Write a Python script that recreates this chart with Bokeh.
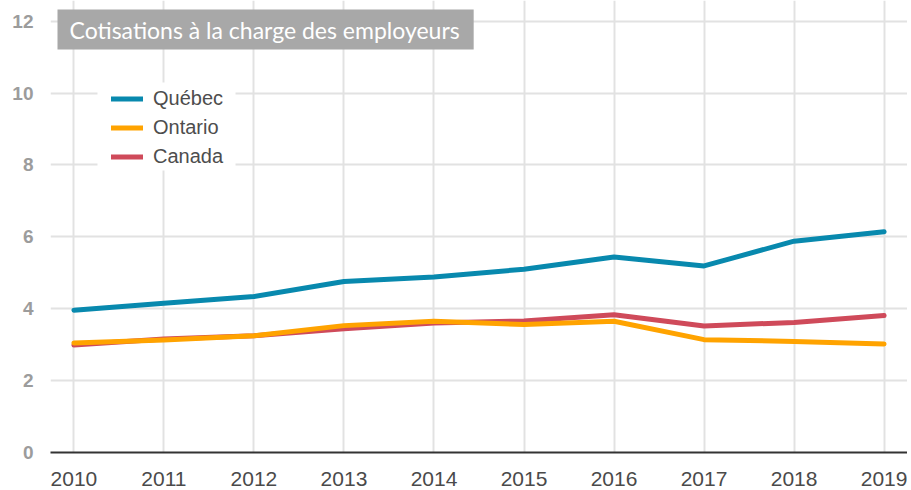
from bokeh.plotting import figure
from bokeh.models import Range1d, Legend, LegendItem, Label, BoxAnnotation, FixedTicker
from bokeh.embed import file_html
from bokeh.resources import INLINE

# ---- data ----
years = [2010, 2011, 2012, 2013, 2014, 2015, 2016, 2017, 2018, 2019]
quebec = [3.96, 4.15, 4.34, 4.76, 4.88, 5.10, 5.44, 5.19, 5.88, 6.14]
ontario = [3.05, 3.13, 3.25, 3.53, 3.65, 3.56, 3.65, 3.14, 3.09, 3.02]
canada = [2.99, 3.16, 3.25, 3.44, 3.60, 3.66, 3.83, 3.52, 3.62, 3.81]
y_ticks = [0, 2, 4, 6, 8, 10, 12]
series_names = ["Québec", "Ontario", "Canada"]
title_text = "Cotisations à la charge des employeurs"

# ---- styles ----
C_QC = "#0889ae"
C_ON = "#ffa300"
C_CA = "#cf4a5a"
GRID = "#e2e2e2"

p = figure(width=907, height=490, output_backend="svg", toolbar_location=None,
           x_range=Range1d(2009.74, 2019.26), y_range=Range1d(0, 12.576),
           min_border_left=50, min_border_right=0, min_border_top=0, min_border_bottom=38)
p.outline_line_color = None
p.background_fill_color = "white"
p.border_fill_color = "white"

p.xaxis.ticker = FixedTicker(ticks=years)
p.yaxis.ticker = FixedTicker(ticks=y_ticks)
p.xgrid.grid_line_color = GRID
p.ygrid.grid_line_color = GRID
p.xgrid.grid_line_width = 2
p.ygrid.grid_line_width = 2

p.xaxis.axis_line_color = "#333333"
p.xaxis.axis_line_width = 2
p.xaxis.major_tick_line_color = None
p.xaxis.minor_tick_line_color = None
p.xaxis.major_label_standoff = 13
p.xaxis.major_label_text_font = "Liberation Sans"
p.xaxis.major_label_text_font_size = "21px"
p.xaxis.major_label_text_color = "#4a4a4a"

p.yaxis.axis_line_color = None
p.yaxis.major_tick_line_color = None
p.yaxis.minor_tick_line_color = None
p.yaxis.major_label_standoff = 11
p.yaxis.major_label_text_font = "Liberation Sans"
p.yaxis.major_label_text_font_style = "bold"
p.yaxis.major_label_text_font_size = "19px"
p.yaxis.major_label_text_color = "#9c9c9c"

r_qc = p.line(years, quebec, line_color=C_QC, line_width=5, line_cap="round", line_join="round")
r_ca = p.line(years, canada, line_color=C_CA, line_width=5, line_cap="round", line_join="round")
r_on = p.line(years, ontario, line_color=C_ON, line_width=5, line_cap="round", line_join="round")

# white legend background box (frame screen units)
p.add_layout(BoxAnnotation(left=47, right=185, top=370, bottom=282,
                           left_units="screen", right_units="screen",
                           top_units="screen", bottom_units="screen",
                           fill_color="white", fill_alpha=1.0, line_color=None, level="annotation"))

legend = Legend(items=[LegendItem(label=series_names[0], renderers=[r_qc]),
                       LegendItem(label=series_names[1], renderers=[r_on]),
                       LegendItem(label=series_names[2], renderers=[r_ca])],
                location=(61, 281), padding=0, margin=0, spacing=0,
                glyph_width=32, glyph_height=29, label_height=29, label_standoff=10,
                label_text_font="Liberation Sans", label_text_font_size="20px",
                label_text_color="#4d4d4d", background_fill_alpha=0, border_line_color=None)
p.add_layout(legend)

p.add_layout(Label(x=7, y=443, x_units="screen", y_units="screen", text=title_text,
                   anchor="top_left", text_font="Lato", text_font_size="23px",
                   text_color="white", background_fill_color="#a8a8a8",
                   padding=dict(left=12, right=14, top=6, bottom=6)))

open("out.html", "w").write(file_html(p, INLINE))
